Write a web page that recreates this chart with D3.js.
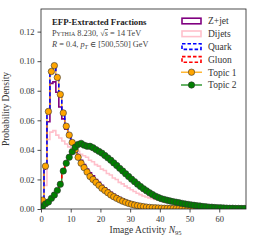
<!DOCTYPE html>
<html><head><meta charset="utf-8">
<script src="https://cdn.jsdelivr.net/npm/d3@7"></script>
<style>
html,body{margin:0;padding:0;background:#fff;}
svg{display:block;}
text{font-family:"Liberation Serif","DejaVu Serif",serif;}
</style></head>
<body><svg id="c" width="256" height="242"></svg>
<script>
// bin edges 0..69, unit width bins; values are probability densities per bin
const binEdges = d3.range(0, 70);
const zjet = [0.005,0.027,0.059,0.085,0.086,0.079,0.069,0.061,0.054,0.050,
  0.046,0.041,0.037,0.033,0.030,0.027,0.0245,0.0225,0.020,0.018,
  0.016,0.0143,0.0128,0.0113,0.010,0.0088,0.0077,0.0067,0.0058,0.005,
  0.0043,0.0037,0.0031,0.0026,0.0022,0.0018,0.0015,0.0013,0.0011,0.0009,
  0.0008,0.0007,0.0006,0.0005,0.0004,0.0004,0.0003,0.0003,0.0003,0.0002,
  0.0002,0.0002,0.0002,0.0001,0.0001,0.0001,0.0001,0.0001,0.0001,0.0001,
  0.0001,0.0001,0.0001,0.0001,0.0001,0.0001,0.0001,0.0001,0.0001];
const dijets = [0.003,0.016,0.047,0.052,0.053,0.050,0.048,0.046,0.044,0.042,
  0.041,0.040,0.039,0.037,0.036,0.035,0.033,0.032,0.030,0.029,
  0.027,0.026,0.024,0.023,0.021,0.020,0.018,0.017,0.0155,0.0143,
  0.0130,0.0118,0.0107,0.0097,0.0088,0.0081,0.0075,0.0069,0.0064,0.0059,
  0.0055,0.0050,0.0045,0.0041,0.0037,0.0033,0.0030,0.0027,0.0024,0.0021,
  0.0019,0.0017,0.0015,0.0013,0.0012,0.0011,0.0010,0.0009,0.0008,0.0007,
  0.0006,0.0006,0.0005,0.0005,0.0004,0.0004,0.0003,0.0003,0.0003];
const quark = [0.006,0.029,0.066,0.093,0.097,0.089,0.0775,0.065,0.056,0.050,
  0.045,0.040,0.035,0.031,0.028,0.025,0.022,0.020,0.018,0.016,
  0.014,0.0125,0.011,0.0095,0.0083,0.0072,0.0062,0.0053,0.0045,0.0038,
  0.0032,0.0027,0.0023,0.0019,0.0016,0.0013,0.0011,0.0009,0.0008,0.0007,
  0.0006,0.0005,0.0005,0.0004,0.0004,0.0003,0.0003,0.0003,0.0002,0.0002,
  0.0002,0.0002,0.0002,0.0001,0.0001,0.0001,0.0001,0.0001,0.0001,0.0001,
  0.0001,0.0001,0.0001,0.0001,0.0001,0.0001,0.0001,0.0001,0.0001];
const gluon = [0.0015,0.0035,0.0047,0.0072,0.0095,0.0126,0.0167,0.0257,0.0310,0.0350,
  0.0387,0.0418,0.0437,0.0444,0.0432,0.0425,0.0424,0.0415,0.0402,0.0390,
  0.0378,0.0362,0.0346,0.0330,0.0312,0.0294,0.0275,0.0257,0.0238,0.0220,
  0.0202,0.0185,0.0168,0.0152,0.0137,0.0123,0.0110,0.0098,0.0087,0.0078,
  0.0070,0.0064,0.0059,0.0054,0.0050,0.0046,0.0042,0.0038,0.0034,0.0031,
  0.0028,0.0025,0.0022,0.0020,0.0017,0.0015,0.0013,0.0012,0.0010,0.0009,
  0.0008,0.0007,0.0006,0.0005,0.0005,0.0004,0.0004,0.0003,0.0003];
const topic1 = [0.006,0.029,0.066,0.093,0.097,0.089,0.0775,0.065,0.056,0.050,
  0.045,0.040,0.035,0.031,0.028,0.025,0.022,0.020,0.018,0.016,
  0.014,0.0125,0.011,0.0095,0.0083,0.0072,0.0062,0.0053,0.0045,0.0038,
  0.0032,0.0027,0.0023,0.0019,0.0016,0.0013,0.0011,0.0009,0.0008,0.0007,
  0.0006,0.0005,0.0005,0.0004,0.0004,0.0003,0.0003,0.0003,0.0002,0.0002,
  0.0002,0.0002,0.0002,0.0001,0.0001,0.0001,0.0001,0.0001,0.0001,0.0001,
  0.0001,0.0001,0.0001,0.0001,0.0001,0.0001,0.0001,0.0001,0.0001];
const topic2 = [0.0015,0.0035,0.0047,0.0072,0.0095,0.0126,0.0167,0.0257,0.0310,0.0350,
  0.0387,0.0418,0.0437,0.0444,0.0432,0.0425,0.0424,0.0415,0.0402,0.0390,
  0.0378,0.0362,0.0346,0.0330,0.0312,0.0294,0.0275,0.0257,0.0238,0.0220,
  0.0202,0.0185,0.0168,0.0152,0.0137,0.0123,0.0110,0.0098,0.0087,0.0078,
  0.0070,0.0064,0.0059,0.0054,0.0050,0.0046,0.0042,0.0038,0.0034,0.0031,
  0.0028,0.0025,0.0022,0.0020,0.0017,0.0015,0.0013,0.0012,0.0010,0.0009,
  0.0008,0.0007,0.0006,0.0005,0.0005,0.0004,0.0004,0.0003,0.0003];
const xTicks = [0,10,20,30,40,50,60];
const yTicks = [0.00,0.02,0.04,0.06,0.08,0.10,0.12];
const legendLabels = ["Z+jet","Dijets","Quark","Gluon","Topic 1","Topic 2"];

const svg = d3.select("#c");
const L=41, R=246, T=9, B=209;
const x = d3.scaleLinear().domain([0,69]).range([L,R]);
const y = d3.scaleLinear().domain([0,0.1353]).range([B,T]);

const clip = svg.append("clipPath").attr("id","pc").append("rect")
  .attr("x",L).attr("y",T).attr("width",R-L).attr("height",B-T);
const g = svg.append("g").attr("clip-path","url(#pc)");

function stepPath(vals){
  const pts = [[0,0]];
  vals.forEach((v,i)=>{pts.push([binEdges[i],v]); pts.push([binEdges[i+1],v]);});
  pts.push([binEdges[vals.length],0]);
  return d3.line().x(d=>x(d[0])).y(d=>y(d[1]))(pts);
}
function addStep(vals,color,w,dash){
  const p = g.append("path").attr("d",stepPath(vals)).attr("fill","none")
    .attr("stroke",color).attr("stroke-width",w).attr("stroke-linejoin","miter");
  if(dash) p.attr("stroke-dasharray",dash);
}
addStep(zjet,"#800080",1.6);
addStep(dijets,"#ffc0cb",1.6);
addStep(topic1,"#ffa500",1.2);
addStep(topic2,"#008000",1.2);
addStep(quark,"#0000ff",1.6,"4,2.4");
addStep(gluon,"#ff0000",1.6,"4,2.4");

function addMarkers(vals,fill){
  g.append("g").selectAll("circle").data(vals).join("circle")
    .attr("cx",(d,i)=>x(binEdges[i]+0.5)).attr("cy",d=>y(d)).attr("r",3.2)
    .attr("fill",fill).attr("stroke","#333").attr("stroke-width",0.6);
}
addMarkers(topic1,"#ffa500");
addMarkers(topic2,"#008000");

// axes
const xa = svg.append("g").attr("transform",`translate(0,${B})`)
  .call(d3.axisBottom(x).tickValues(xTicks).tickSize(3.5).tickPadding(3).tickFormat(d3.format("d")));
const ya = svg.append("g").attr("transform",`translate(${L},0)`)
  .call(d3.axisLeft(y).tickValues(yTicks).tickSize(3.5).tickPadding(3).tickFormat(d3.format(".2f")));
[xa,ya].forEach(a=>{
  a.select(".domain").remove();
  a.selectAll("line").attr("stroke","#222").attr("stroke-width",0.8);
  a.selectAll("text").attr("font-family","Liberation Serif, serif").attr("font-size",8.5).attr("fill","#333");
});
svg.append("rect").attr("x",L).attr("y",T).attr("width",R-L).attr("height",B-T)
  .attr("fill","none").attr("stroke","#222").attr("stroke-width",0.8);

// axis titles
svg.append("text").attr("transform",`translate(9,${(T+B)/2}) rotate(-90)`)
  .attr("text-anchor","middle").attr("font-size",9.5).attr("fill","#333").text("Probability Density");
const xt = svg.append("text").attr("x",(L+R)/2+2).attr("y",233).attr("text-anchor","middle")
  .attr("font-size",9.5).attr("fill","#333");
xt.append("tspan").text("Image Activity ");
xt.append("tspan").attr("font-style","italic").text("N");
xt.append("tspan").attr("font-size",6.5).attr("dy",2).text("95");

// annotation
svg.append("text").attr("x",52).attr("y",25).attr("font-size",8.8).attr("font-weight","bold")
  .attr("fill","#222").text("EFP-Extracted Fractions");
const t2 = svg.append("text").attr("x",52).attr("y",36).attr("font-size",8.3).attr("fill","#444");
t2.append("tspan").attr("font-variant","small-caps").text("Pythia");
t2.append("tspan").text(" 8.230, √");
t2.append("tspan").attr("font-style","italic").attr("text-decoration","overline").text("s");
t2.append("tspan").text(" = 14 TeV");
const t3 = svg.append("text").attr("x",52).attr("y",47).attr("font-size",8.3).attr("fill","#444");
t3.append("tspan").attr("font-style","italic").text("R");
t3.append("tspan").text(" = 0.4, ");
t3.append("tspan").attr("font-style","italic").text("p");
t3.append("tspan").attr("font-style","italic").attr("font-size",6).attr("dy",1.5).text("T");
t3.append("tspan").attr("dy",-1.5).text(" ∈ [500,550] GeV");

// legend
const lg = svg.append("g");
const rowY = i => 21 + i*12.8;
const patchStyle = [["#800080",null],["#ffc0cb",null],["#0000ff","3.5,2"],["#ff0000","3.5,2"]];
patchStyle.forEach((s,i)=>{
  const r = lg.append("rect").attr("x",182).attr("y",rowY(i)-2.8).attr("width",19).attr("height",5.6)
    .attr("fill","none").attr("stroke",s[0]).attr("stroke-width",1.6);
  if(s[1]) r.attr("stroke-dasharray",s[1]);
});
[["#ffa500"],["#008000"]].forEach((s,j)=>{
  const yy = rowY(4+j);
  lg.append("line").attr("x1",181).attr("x2",202).attr("y1",yy).attr("y2",yy)
    .attr("stroke",s[0]).attr("stroke-width",1.2);
  lg.append("circle").attr("cx",191.5).attr("cy",yy).attr("r",3.2).attr("fill",s[0])
    .attr("stroke","#333").attr("stroke-width",0.6);
});
legendLabels.forEach((t,i)=>{
  lg.append("text").attr("x",208).attr("y",rowY(i)+3.3).attr("font-size",9.5).attr("fill","#333").text(t);
});
</script></body></html>
